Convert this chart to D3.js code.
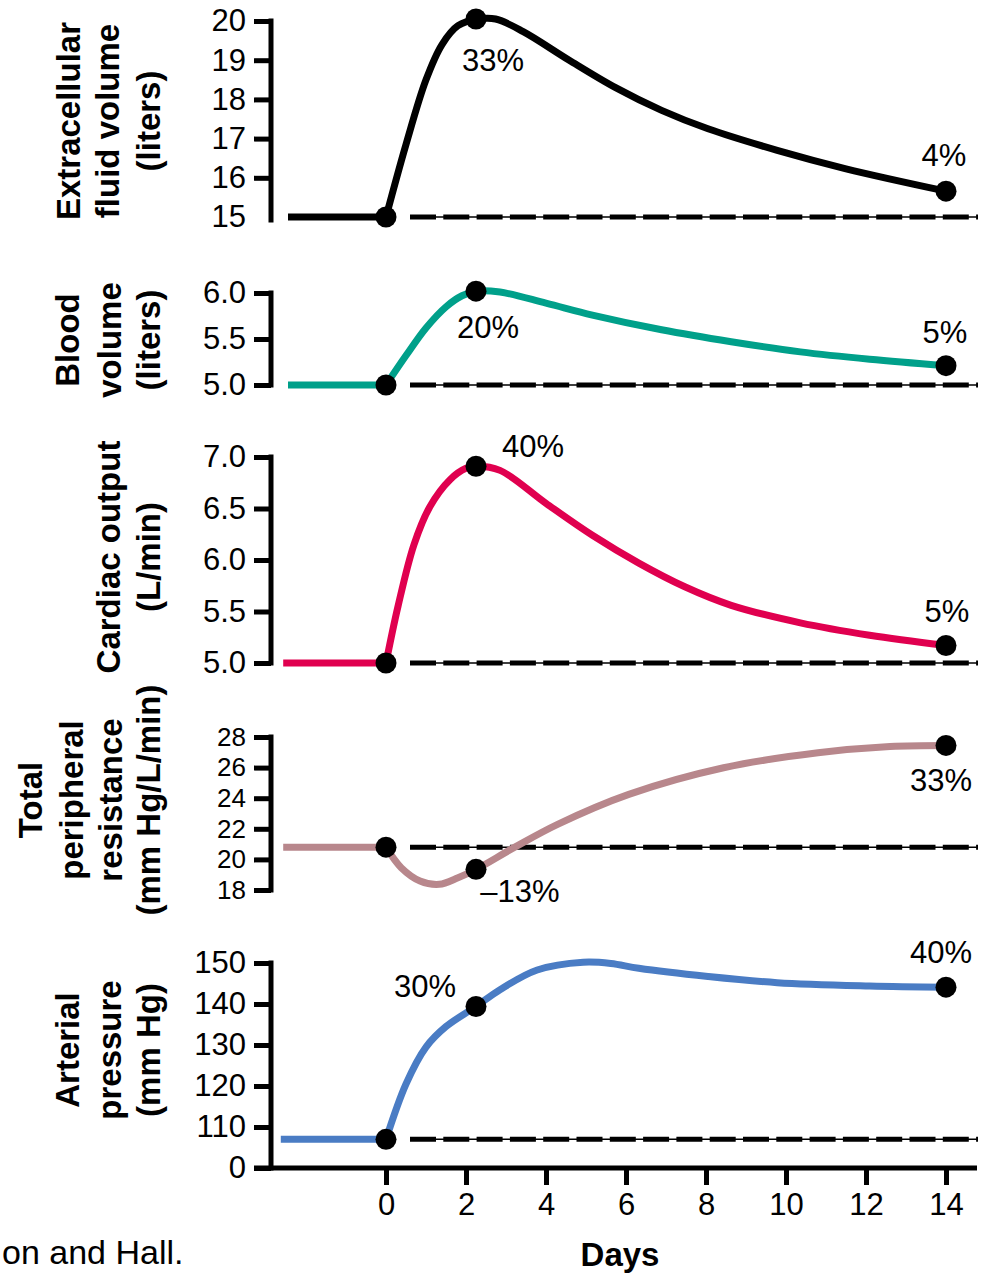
<!DOCTYPE html>
<html>
<head>
<meta charset="utf-8">
<script src="https://cdn.jsdelivr.net/npm/d3@7"></script>
<style>
  html, body { margin: 0; padding: 0; background: #fff; }
  svg { display: block; }
  text { font-family: "Liberation Sans", Arial, Helvetica, sans-serif; fill: #000; }
</style>
</head>
<body>
<svg id="chart" width="989" height="1279"></svg>
<script>
// ---------------- DATA ----------------
const xTicks = [0, 2, 4, 6, 8, 10, 12, 14];
const markerDays = [0, 2.25, 14];

// Extracellular fluid volume (liters)
const ecfTicks = [15, 16, 17, 18, 19, 20];
const ecfBase = 15;
const ecfStartDay = -2.45;
const ecfDays = [0, 0.5, 1.0, 1.4, 1.8, 2.3, 2.74, 3.43, 4.58, 5.74, 6.89, 8.05, 9.78, 11.5, 14];
const ecfVals = [15, 16.85, 18.5, 19.4, 19.88, 20.05, 20.05, 19.73, 19.0, 18.30, 17.72, 17.25, 16.70, 16.23, 15.66];
const ecfMarkers = [15, 20.05, 15.66];
const ecfLabels = ["33%", "4%"];

// Blood volume (liters)
const bvTicks = [5.0, 5.5, 6.0];
const bvBase = 5.0;
const bvStartDay = -2.45;
const bvDays = [0, 0.5, 1.0, 1.5, 1.9, 2.25, 2.85, 4.0, 5.16, 6.89, 8.63, 10.36, 12.09, 14];
const bvVals = [5.0, 5.32, 5.62, 5.85, 5.97, 6.02, 6.01, 5.89, 5.76, 5.60, 5.47, 5.36, 5.28, 5.21];
const bvMarkers = [5.0, 6.02, 5.21];
const bvLabels = ["20%", "5%"];

// Cardiac output (L/min)
const coTicks = [5.0, 5.5, 6.0, 6.5, 7.0];
const coBase = 5.0;
const coStartDay = -2.57;
const coDays = [0, 0.3, 0.7, 1.1, 1.6, 2.0, 2.25, 2.85, 4.0, 5.16, 6.32, 7.47, 8.63, 10.36, 12.09, 14];
const coVals = [5.0, 5.55, 6.15, 6.52, 6.78, 6.89, 6.91, 6.87, 6.55, 6.24, 5.97, 5.74, 5.56, 5.39, 5.27, 5.17];
const coMarkers = [5.0, 6.91, 5.17];
const coLabels = ["40%", "5%"];

// Total peripheral resistance (mm Hg/L/min)
const tprTicks = [18, 20, 22, 24, 26, 28];
const tprBase = 20.8;
const tprStartDay = -2.57;
const tprDays = [0, 0.38, 0.85, 1.33, 1.8, 2.25, 3.22, 4.29, 6.07, 8.44, 10.8, 12.6, 14];
const tprVals = [20.8, 19.46, 18.59, 18.37, 18.8, 19.35, 20.8, 22.29, 24.25, 25.99, 26.97, 27.38, 27.45];
const tprMarkers = [20.8, 19.35, 27.45];
const tprLabels = ["\u201313%", "33%"];

// Arterial pressure (mm Hg) — broken axis, bottom tick labelled 0
const apTicks = [100, 110, 120, 130, 140, 150];
const apTickLabels = ["0", "110", "120", "130", "140", "150"];
const apBase = 107;
const apStartDay = -2.63;
const apDays = [0, 0.5, 1.0, 1.5, 2.25, 2.85, 3.78, 4.93, 5.62, 6.32, 8.05, 9.78, 12.09, 14];
const apVals = [107, 120.5, 129.5, 134.5, 139.4, 143.5, 148.3, 150.2, 149.9, 148.7, 146.7, 145.2, 144.4, 144.1];
const apMarkers = [107, 139.4, 144.1];
const apLabels = ["30%", "40%"];

const xTitle = "Days";
const footnote = "on and Hall.";

// ---------------- LAYOUT / DRAW ----------------
const svg = d3.select("#chart");
const axisX = 271;
const tickFont = 31;
const titleFont = 33;

const x = d3.scaleLinear().domain([0, 14]).range([386, 946]);

const panels = [
  { days: ecfDays, vals: ecfVals, base: ecfBase, start: ecfStartDay, markers: ecfMarkers, labels: ecfLabels,
    ticks: ecfTicks, fmt: d => d3.format("d")(d), domain: [15, 20], range: [217, 21], axisBottom: 220, hideBottomTick: true,
    color: "#000000", title: ["Extracellular", "fluid volume", "(liters)"], titleX: [68, 107, 148], titleY: 121,
    labelOff: [[17, 52], [-2, -25]], tickFont: 31 },
  { days: bvDays, vals: bvVals, base: bvBase, start: bvStartDay, markers: bvMarkers, labels: bvLabels,
    ticks: bvTicks, fmt: d3.format(".1f"), domain: [5, 6], range: [385, 293],
    color: "#00a08a", title: ["Blood", "volume", "(liters)"], titleX: [67, 109, 148], titleY: 340,
    labelOff: [[12, 47], [-1, -23]], tickFont: 31 },
  { days: coDays, vals: coVals, base: coBase, start: coStartDay, markers: coMarkers, labels: coLabels,
    ticks: coTicks, fmt: d3.format(".1f"), domain: [5, 7], range: [663, 457],
    color: "#e0004f", title: ["Cardiac output", "(L/min)"], titleX: [108, 148], titleY: 557,
    labelOff: [[57, -9], [1, -23]], tickFont: 31 },
  { days: tprDays, vals: tprVals, base: tprBase, start: tprStartDay, markers: tprMarkers, labels: tprLabels,
    ticks: tprTicks, fmt: d3.format("d"), domain: [18, 28], range: [890, 737],
    color: "#b8878c", title: ["Total", "peripheral", "resistance", "(mm Hg/L/min)"], titleX: [30, 71, 110, 148], titleY: 800,
    labelOff: [[44, 33], [-5, 46]], tickFont: 26 },
  { days: apDays, vals: apVals, base: apBase, start: apStartDay, markers: apMarkers, labels: apLabels,
    ticks: apTicks, fmt: d => apTickLabels[apTicks.indexOf(d)], domain: [100, 150], range: [1168, 963],
    color: "#4a7cc4", title: ["Arterial", "pressure", "(mm Hg)"], titleX: [67, 109, 148], titleY: 1050,
    labelOff: [[-51, -9], [-5, -24]], tickFont: 31 }
];

panels.forEach(p => {
  const y = d3.scaleLinear().domain(p.domain).range(p.range);
  const g = svg.append("g");

  // y axis
  const ax = g.append("g")
    .attr("transform", `translate(${axisX},0)`)
    .call(d3.axisLeft(y).tickValues(p.ticks).tickFormat(p.fmt).tickSize(17).tickSizeOuter(0).tickPadding(8));
  ax.select(".domain").remove();
  ax.append("line")
    .attr("x1", 0).attr("x2", 0)
    .attr("y1", p.range[1] - 2.5).attr("y2", (p.axisBottom || p.range[0]) + 2.5)
    .attr("stroke", "#000").attr("stroke-width", 5);
  ax.selectAll(".tick line").attr("stroke", "#000").attr("stroke-width", 5);
  if (p.hideBottomTick) ax.selectAll(".tick").filter(d => d === p.domain[0]).select("line").remove();
  ax.selectAll(".tick text")
    .attr("font-size", p.tickFont)
    .attr("font-family", "Liberation Sans, Arial, sans-serif")
    .attr("fill", "#000");

  // y title (rotated multi-line)
  p.title.forEach((t, i) => {
    g.append("text")
      .attr("transform", `translate(${p.titleX[i]},${p.titleY}) rotate(-90)`)
      .attr("text-anchor", "middle")
      .attr("dy", "0.35em")
      .attr("font-size", titleFont)
      .attr("font-weight", "bold")
      .text(t);
  });

  // dashed baseline
  const yb = y(p.base);
  g.append("line")
    .attr("x1", 410).attr("x2", 978).attr("y1", yb).attr("y2", yb)
    .attr("stroke", "#000").attr("stroke-width", 1.5);
  g.append("line")
    .attr("x1", 410).attr("x2", 978).attr("y1", yb).attr("y2", yb)
    .attr("stroke", "#000").attr("stroke-width", 5)
    .attr("stroke-dasharray", "26,7.3");

  // curve: flat pre-period + response
  const line = d3.line().x(d => x(d[0])).y(d => y(d[1])).curve(d3.curveCatmullRom.alpha(0.5));
  const flat = [[p.start, p.base], [0, p.base]];
  const resp = p.days.map((d, i) => [d, p.vals[i]]);
  g.append("path")
    .attr("d", d3.line().x(d => x(d[0])).y(d => y(d[1]))(flat) + line(resp))
    .attr("fill", "none")
    .attr("stroke", p.color)
    .attr("stroke-width", 7)
    .attr("stroke-linejoin", "round");

  // markers
  g.selectAll("circle.m").data(markerDays).enter().append("circle")
    .attr("cx", d => x(d))
    .attr("cy", (d, i) => y(p.markers[i]))
    .attr("r", 10.5)
    .attr("fill", "#000");

  // percentage labels (attached to 2nd and 3rd markers)
  p.labels.forEach((t, i) => {
    const mi = i + 1;
    g.append("text")
      .attr("x", x(markerDays[mi]) + p.labelOff[i][0])
      .attr("y", y(p.markers[mi]) + p.labelOff[i][1])
      .attr("text-anchor", "middle")
      .attr("font-size", tickFont)
      .text(t);
  });
});

// x axis
const xg = svg.append("g").attr("transform", "translate(0,1168)");
xg.call(d3.axisBottom(x).tickValues(xTicks).tickFormat(d3.format("d")).tickSize(17).tickSizeOuter(0).tickPadding(8));
xg.select(".domain").remove();
xg.append("line").attr("x1", 254).attr("x2", 977).attr("y1", 0).attr("y2", 0)
  .attr("stroke", "#000").attr("stroke-width", 5);
xg.selectAll(".tick line").attr("stroke", "#000").attr("stroke-width", 5);
xg.selectAll(".tick text")
  .attr("font-size", tickFont)
  .attr("font-family", "Liberation Sans, Arial, sans-serif")
  .attr("fill", "#000");

svg.append("text")
  .attr("x", 620).attr("y", 1266)
  .attr("text-anchor", "middle")
  .attr("font-size", titleFont)
  .attr("font-weight", "bold")
  .text(xTitle);

svg.append("text")
  .attr("x", 2).attr("y", 1264)
  .attr("font-size", 34)
  .text(footnote);
</script>
</body>
</html>
